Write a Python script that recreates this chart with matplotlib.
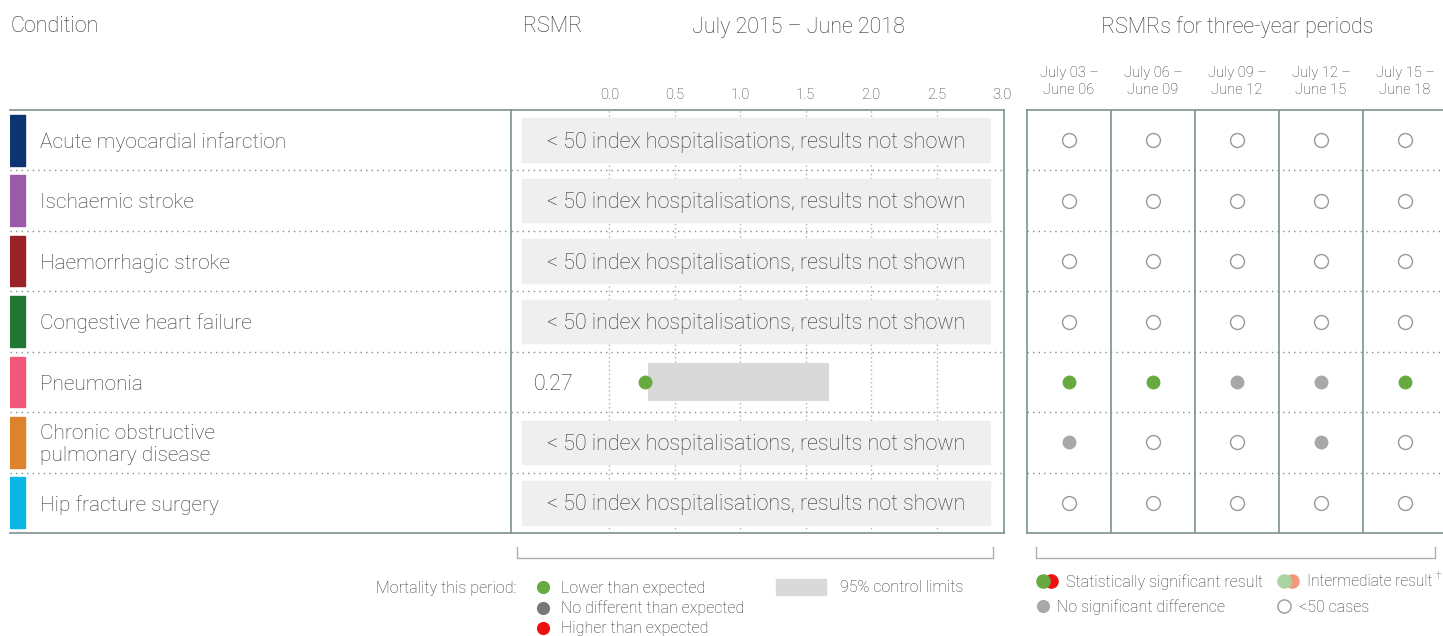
import numpy as np
import matplotlib
matplotlib.use("Agg")
import matplotlib.pyplot as plt
from matplotlib.patches import Rectangle

plt.rcParams['font.family'] = ['Roboto', 'DejaVu Sans']
plt.rcParams['font.weight'] = 'light'

# data
conditions = ["Acute myocardial infarction", "Ischaemic stroke", "Haemorrhagic stroke",
              "Congestive heart failure", "Pneumonia",
              "Chronic obstructive\npulmonary disease", "Hip fracture surgery"]
cond_colors = ["#0b3470", "#9b5ba8", "#9a2226", "#237534", "#f0577a", "#de822c", "#0ab6e5"]
rsmr = [None, None, None, None, 0.27, None, None]
ci_low = [None, None, None, None, 0.30, None, None]
ci_high = [None, None, None, None, 1.68, None, None]
ticks = [0.0, 0.5, 1.0, 1.5, 2.0, 2.5, 3.0]
periods = ["July 03 –\nJune 06", "July 06 –\nJune 09", "July 09 –\nJune 12",
           "July 12 –\nJune 15", "July 15 –\nJune 18"]
# s = significant lower, n = no significant difference, o = <50 cases
trend = [
    ["o", "o", "o", "o", "o"],
    ["o", "o", "o", "o", "o"],
    ["o", "o", "o", "o", "o"],
    ["o", "o", "o", "o", "o"],
    ["s", "s", "n", "n", "s"],
    ["n", "o", "o", "n", "o"],
    ["o", "o", "o", "o", "o"],
]

W, H = 1443, 636
TXT = "#333333"
FRAME = "#7d9190"
GREEN = "#66aa40"
GREY = "#a8a8a8"
DY = 0.035  # small downward nudge for row text

fig = plt.figure(figsize=(W / 100, H / 100), dpi=100)

def box(x0, x1, y0, y1):
    return [x0 / W, 1 - y1 / H, (x1 - x0) / W, (y1 - y0) / H]

n = len(conditions)
ax_l = fig.add_axes(box(10, 511, 110, 533))
ax_m = fig.add_axes(box(511, 1004, 110, 533))
ax_r = fig.add_axes(box(1027, 1443, 110, 533))

for ax in (ax_l, ax_m, ax_r):
    ax.set_ylim(n, 0)
    ax.set_yticks([])
    for s in ax.spines.values():
        s.set_color(FRAME)
        s.set_linewidth(1.2)
    for b in range(1, n):
        ax.axhline(b, color=FRAME, lw=1, ls=(0, (1, 3)), zorder=1)

# left panel
ax_l.set_xlim(0, 501)
ax_l.set_xticks([])
ax_l.spines['left'].set_visible(False)
ax_l.spines['right'].set_visible(False)
for i, (c, col) in enumerate(zip(conditions, cond_colors)):
    ax_l.add_patch(Rectangle((0, i + 0.08), 15, 0.84, color=col, zorder=2))
    ax_l.text(30, i + 0.5 + DY, c, va='center', ha='left', fontsize=15, color=TXT,
              linespacing=1.2)

# middle panel
ax_m.set_xlim(-0.75, 3.015)
ax_m.set_xticks(ticks)
ax_m.set_xticklabels([f"{t:.1f}" for t in ticks], fontsize=10.5, color=TXT)
ax_m.xaxis.tick_top()
ax_m.tick_params(axis='x', length=0, pad=6)
for t in ticks[:-1]:
    ax_m.axvline(t, color="#aab4b4", lw=1, ls=(0, (1, 2)), zorder=0)
for i in range(n):
    if rsmr[i] is None:
        ax_m.add_patch(Rectangle((-0.665, i + 0.14), 3.575, 0.72, color="#efefef", zorder=2))
        ax_m.text(1.12, i + 0.5 + DY, "< 50 index hospitalisations, results not shown",
                  ha='center', va='center', fontsize=15.5, color=TXT, zorder=3)
    else:
        ax_m.barh(i + 0.5, ci_high[i] - ci_low[i], left=ci_low[i], height=0.63,
                  color="#d9d9d9", zorder=2)
        ax_m.scatter([rsmr[i]], [i + 0.5], s=100, color=GREEN, zorder=3, linewidths=0)
        ax_m.text(-0.58, i + 0.5 + DY, f"{rsmr[i]:.2f}", ha='left', va='center',
                  fontsize=15.5, color=TXT)

# right panel
ax_r.set_xlim(0, 416 / 84)
ax_r.spines['right'].set_visible(False)
ax_r.set_xticks(np.arange(len(periods)) + 0.5)
ax_r.set_xticklabels(periods, fontsize=10.5, color=TXT, linespacing=1.35)
ax_r.xaxis.tick_top()
ax_r.tick_params(axis='x', length=0, pad=9)
for k in range(1, len(periods)):
    ax_r.axvline(k, color=FRAME, lw=1.2, zorder=1)
for i, row in enumerate(trend):
    for j, v in enumerate(row):
        if v == "o":
            ax_r.scatter(j + 0.5, i + 0.5, s=100, facecolor='white', edgecolor="#999999",
                         linewidths=1, zorder=3)
        else:
            ax_r.scatter(j + 0.5, i + 0.5, s=100, color=GREEN if v == "s" else GREY,
                         linewidths=0, zorder=3)

# headers
hy = 1 - 27 / H
fig.text(10 / W, hy, "Condition", fontsize=15.5, color=TXT, va='center', ha='left')
fig.text(553 / W, hy, "RSMR", fontsize=15.5, color=TXT, va='center', ha='center')
fig.text(798 / W, hy, "July 2015 – June 2018", fontsize=15.5, color=TXT,
         va='center', ha='center')
fig.text(1237 / W, hy, "RSMRs for three-year periods", fontsize=15.5, color=TXT,
         va='center', ha='center')

# legend / brackets
ax_g = fig.add_axes([0, 0, 1, 1], zorder=-1)
ax_g.set_xlim(0, W)
ax_g.set_ylim(H, 0)
ax_g.axis('off')
for x0, x1 in [(517, 993), (1036, 1435)]:
    ax_g.plot([x0, x0, x1, x1], [547, 558, 558, 547], color="#b0b0b0", lw=1)

ax_g.text(517, 588, "Mortality this period:", ha='right', va='center', fontsize=11.5, color=TXT)
leg_items = [(GREEN, "Lower than expected"), ("#777777", "No different than expected"),
             ("#ee1111", "Higher than expected")]
for k, (col, lab) in enumerate(leg_items):
    y = 587 + k * 20.5
    ax_g.scatter(543, y, s=90, color=col, linewidths=0)
    ax_g.text(561, y + 1, lab, ha='left', va='center', fontsize=11.5, color=TXT)
ax_g.add_patch(Rectangle((776, 579), 50, 16, color="#d9d9d9"))
ax_g.text(840, 588, "95% control limits", ha='left', va='center', fontsize=11.5, color=TXT)

ax_g.scatter(1051, 581, s=110, color="#ee1111", linewidths=0)
ax_g.scatter(1043, 581, s=110, color=GREEN, linewidths=0)
ax_g.text(1066, 582, "Statistically significant result", ha='left', va='center',
          fontsize=11.5, color=TXT)
ax_g.scatter(1292, 581, s=110, color="#f39a7c", linewidths=0)
ax_g.scatter(1284, 581, s=110, color="#a9d3a0", linewidths=0)
ax_g.text(1307, 582, "Intermediate result", ha='left', va='center', fontsize=11.2,
          color=TXT)
ax_g.text(1436, 576, "\u2020", ha='left', va='center', fontsize=7, color=TXT)
ax_g.scatter(1043, 606, s=90, color=GREY, linewidths=0)
ax_g.text(1057, 607, "No significant difference", ha='left', va='center', fontsize=11.5,
          color=TXT)
ax_g.scatter(1284, 606, s=90, facecolor='white', edgecolor="#999999", linewidths=1)
ax_g.text(1299, 607, "<50 cases", ha='left', va='center', fontsize=11.5, color=TXT)

fig.savefig("out.png", dpi=100)
